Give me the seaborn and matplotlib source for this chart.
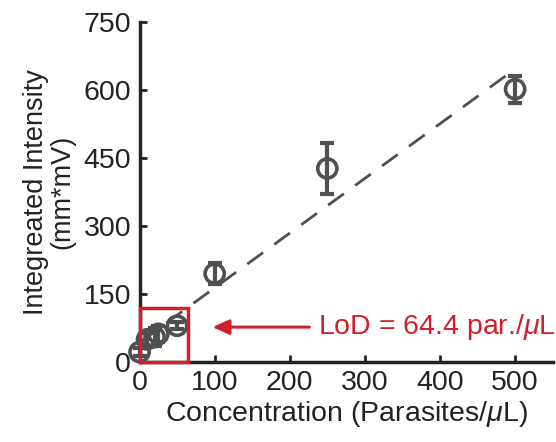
import numpy as np
import pandas as pd
import matplotlib
matplotlib.use("Agg")
import matplotlib.pyplot as plt
import matplotlib.patches as mpatches
import seaborn as sns

# data
conc = [0, 10, 20, 25, 50, 100, 250, 500]
intensity = [22, 50, 55, 62, 80, 195, 427, 602]
err = [8, 15, 20, 18, 8, 23, 57, 30]

# linear fit shown as dashed line
fit_slope = 1.207
fit_intercept = 43
fit_x = np.array([0, 500])

lod = 64.4
lod_box_top = 120

sns.set_style("ticks")
plt.rcParams['font.family'] = ['Liberation Sans', 'DejaVu Sans']
plt.rcParams['mathtext.fontset'] = 'custom'
plt.rcParams['mathtext.rm'] = 'Liberation Sans'
plt.rcParams['mathtext.it'] = 'Liberation Sans:italic'

gray = '#505052'
red = '#d0202e'
dark = '#222222'

df = pd.DataFrame({'conc': conc, 'intensity': intensity, 'err': err})

fig = plt.figure(figsize=(5.56, 4.42), dpi=100)
ax = fig.add_axes([0.251, 0.181, 0.743, 0.769])

sns.lineplot(x=fit_x, y=fit_slope * fit_x + fit_intercept, ax=ax, color=gray,
             linewidth=2, zorder=1)
ax.lines[-1].set_linestyle((0, (7, 5)))

ax.errorbar(df['conc'], df['intensity'], yerr=df['err'], fmt='none', ecolor=gray,
            elinewidth=3, capsize=5, capthick=3, zorder=2, clip_on=False)
sns.scatterplot(data=df, x='conc', y='intensity', ax=ax, marker='o', s=190,
                facecolors='none', edgecolor=gray, linewidth=2.6, zorder=3, clip_on=False)

rect = mpatches.Rectangle((0, 0), lod, lod_box_top, fill=False, edgecolor=red,
                          linewidth=2.5, zorder=4, clip_on=False)
ax.add_patch(rect)

ax.annotate('', xy=(97, 77), xytext=(226, 77),
            arrowprops=dict(arrowstyle='-|>,head_length=1.0,head_width=0.45',
                            color=red, lw=2.2, shrinkA=0, shrinkB=0))
ax.text(237, 77, r'LoD = 64.4 par./$\mu$L', color=red, fontsize=20.5,
        va='center', ha='left')

ax.set_xlim(0, 550)
ax.set_ylim(0, 750)
ax.set_xticks([0, 100, 200, 300, 400, 500])
ax.set_yticks([0, 150, 300, 450, 600, 750])
ax.tick_params(direction='in', length=5, width=2, labelsize=20.5, colors=dark,
               pad=6)
for s in ['top', 'right']:
    ax.spines[s].set_visible(False)
for s in ['left', 'bottom']:
    ax.spines[s].set_linewidth(2.5)
    ax.spines[s].set_color(dark)

ax.set_xlabel(r'Concentration (Parasites/$\mu$L)', fontsize=20.5, color=dark,
              labelpad=2)
ax.set_ylabel('Integreated Intensity\n(mm*mV)', fontsize=19.5, color=dark,
              linespacing=1.0, labelpad=6)

fig.savefig('out.png', dpi=100)
